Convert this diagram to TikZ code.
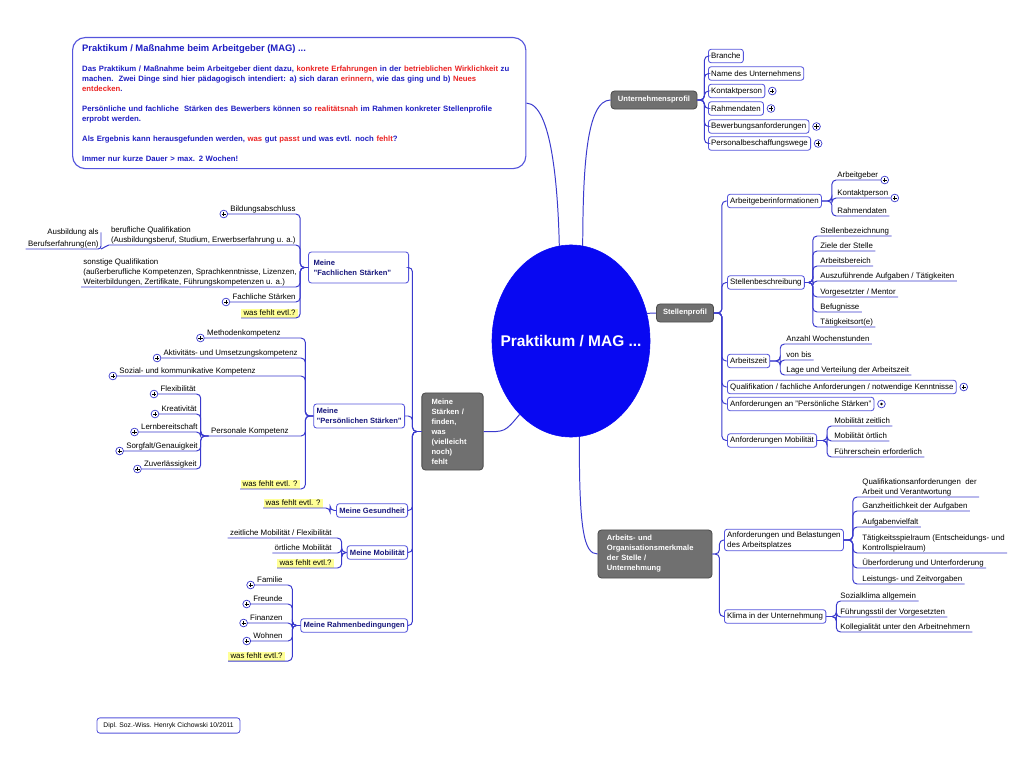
\documentclass[tikz,border=0pt]{standalone}
\usepackage{fontspec}
\setmainfont{Liberation Sans}
\usetikzlibrary{shapes.geometric, positioning}

\definecolor{mmline}{RGB}{58,58,205}
\definecolor{mmframe}{RGB}{85,85,220}
\definecolor{mmhub}{RGB}{8,8,242}
\definecolor{mmgray}{RGB}{112,112,112}
\definecolor{mmtitle}{RGB}{30,30,195}
\definecolor{mmred}{RGB}{235,35,35}
\definecolor{mmdark}{RGB}{25,25,125}
\definecolor{mmyellow}{RGB}{255,255,150}

\newcommand{\leaffont}{\fontsize{5.6}{7.1}\selectfont}
\newcommand{\redword}[1]{\textcolor{mmred}{#1}}

\begin{document}
\begin{tikzpicture}[
      x=0.025cm, y=-0.025cm,
      font=\leaffont,
      conn/.style={draw=mmline, line width=0.7pt, rounded corners=3pt},
      hub/.style={ellipse, draw=mmhub, fill=mmhub, text=white, inner xsep=-12pt, inner ysep=0pt, minimum width=3.95cm, minimum height=4.8cm, font=\fontsize{11}{13}\selectfont\bfseries},
      infobox/.style={draw=mmframe, fill=white, line width=0.8pt, rounded corners=9pt, text=mmtitle, align=left, text width=10.85cm, inner xsep=0.24cm, minimum height=3.275cm, font=\fontsize{5.5}{7.1}\selectfont\bfseries},
      branch/.style={draw=black!70, fill=mmgray, text=white, line width=0.6pt, rounded corners=2.5pt, inner sep=2pt, font=\fontsize{5.4}{7.1}\selectfont\bfseries},
      topic/.style={draw=mmframe, fill=white, line width=0.6pt, rounded corners=2pt, inner xsep=2pt, inner ysep=1.5pt, minimum height=0.34cm, align=left},
      mytopic/.style={topic, text=mmdark, font=\fontsize{5.4}{7.1}\selectfont\bfseries},
      leaf/.style={inner xsep=1.5pt, inner ysep=0.3pt, align=left, execute at end node={\rule[-1.3pt]{0pt}{1pt}}},
      wish/.style={leaf, fill=mmyellow},
      expander/.style={circle, draw=mmline, fill=white, line width=0.5pt, inner sep=0pt, minimum size=5.5pt,
        path picture={\draw[black, line width=0.45pt] (path picture bounding box.center) +(-1.5pt,0) -- +(1.5pt,0) (path picture bounding box.center) +(0,-1.5pt) -- +(0,1.5pt);}},
      expanderdot/.style={expander, path picture={\fill[black] (path picture bounding box.center) circle (1pt);}},
  ]
  \useasboundingbox (0,0) rectangle (1024,768);

  % central topic
  \node[hub] (mag) at (571,341) {Praktikum / MAG ...};

  % intro text
  \node[infobox, anchor=north west] (info) at (72,37) {%
      {\fontsize{6.7}{8}\selectfont Praktikum / Maßnahme beim Arbeitgeber (MAG) ...}\\[7pt]
      Das Praktikum / Maßnahme beim Arbeitgeber dient dazu, \redword{konkrete Erfahrungen} in der \redword{betrieblichen Wirklichkeit} zu\\
      machen.\ \ Zwei Dinge sind hier pädagogisch intendiert: a) sich daran \redword{erinnern}, wie das ging und b) \redword{Neues}\\
      \redword{entdecken}.\\[7pt]
      Persönliche und fachliche\ \ Stärken des Bewerbers können so \redword{realitätsnah} im Rahmen konkreter Stellenprofile\\
      erprobt werden.\\[7pt]
      Als Ergebnis kann herausgefunden werden, \redword{was} gut \redword{passt} und was evtl. noch \redword{fehlt}?\\[7pt]
      Immer nur kurze Dauer > max. 2 Wochen!};
  \draw[conn] (info.east) .. controls (552,104) and (558,190) .. (mag.97);

  % --- Unternehmensprofil ---
  \node[branch, minimum width=2.15cm, minimum height=0.45cm] (unt) at (654,100) {Unternehmensprofil};
  \draw[conn] (mag.83) .. controls (583,170) and (586,100) .. (unt.west);
  \node[topic, anchor=west] (unt1) at (708,56) {Branche};
  \node[topic, anchor=west] (unt2) at (708,73.5) {Name des Unternehmens};
  \node[topic, anchor=west] (unt3) at (708,91) {Kontaktperson};
  \node[topic, anchor=west] (unt4) at (708,108.5) {Rahmendaten};
  \node[topic, anchor=west] (unt5) at (708,126.5) {Bewerbungsanforderungen};
  \node[topic, anchor=west] (unt6) at (708,143.5) {Personalbeschaffungswege};
  \node[expander, right=2pt of unt3] (unt3x) {};
  \node[expander, right=2pt of unt4] (unt4x) {};
  \node[expander, right=2pt of unt5] (unt5x) {};
  \node[expander, right=2pt of unt6] (unt6x) {};
  \draw[conn] (unt.east) -- ++(7,0) |- (unt1.west);
  \draw[conn] (unt.east) -- ++(7,0) |- (unt2.west);
  \draw[conn] (unt.east) -- ++(7,0) |- (unt3.west);
  \draw[conn] (unt.east) -- ++(7,0) |- (unt4.west);
  \draw[conn] (unt.east) -- ++(7,0) |- (unt5.west);
  \draw[conn] (unt.east) -- ++(7,0) |- (unt6.west);

  % --- Stellenprofil ---
  \node[branch, minimum width=1.425cm, minimum height=0.45cm] (stp) at (685,313) {Stellenprofil};
  \draw[conn] (mag.20) -- (stp.west);
  \node[topic, anchor=west] (sp1) at (727,201) {Arbeitgeberinformationen};
  \node[topic, anchor=west] (sp2) at (727,282.5) {Stellenbeschreibung};
  \node[topic, anchor=west] (sp3) at (727,361) {Arbeitszeit};
  \node[topic, anchor=west] (sp4) at (727,387) {Qualifikation / fachliche Anforderungen / notwendige Kenntnisse};
  \node[topic, anchor=west] (sp5) at (727,404) {Anforderungen an "Persönliche Stärken"};
  \node[topic, anchor=west] (sp6) at (727,440.5) {Anforderungen Mobilität};
  \node[expander, right=2pt of sp4] (sp4x) {};
  \node[expanderdot, right=2pt of sp5] (sp5x) {};
  \draw[conn] (stp.east) -- ++(8,0) |- (sp1.west);
  \draw[conn] (stp.east) -- ++(8,0) |- (sp2.west);
  \draw[conn] (stp.east) -- ++(8,0) |- (sp3.west);
  \draw[conn] (stp.east) -- ++(8,0) |- (sp4.west);
  \draw[conn] (stp.east) -- ++(8,0) |- (sp5.west);
  \draw[conn] (stp.east) -- ++(8,0) |- (sp6.west);

  % Arbeitgeberinformationen
  \node[leaf, anchor=south west] (a1) at (835,180) {Arbeitgeber};
  \node[leaf, anchor=south west] (a2) at (835,198) {Kontaktperson};
  \node[leaf, anchor=south west] (a3) at (835,216) {Rahmendaten};
  \node[expander, anchor=west] (a1x) at (a1.south east) {};
  \node[expander, anchor=west] (a2x) at (a2.south east) {};
  \draw[conn] (sp1.east) -- ++(10,0) |- (a1.south east);
  \draw[conn] (sp1.east) -- ++(10,0) |- (a2.south east);
  \draw[conn] (sp1.east) -- ++(10,0) |- (a3.south east);

  % Stellenbeschreibung
  \node[leaf, anchor=south west] (b1) at (818,236) {Stellenbezeichnung};
  \node[leaf, anchor=south west] (b2) at (818,251) {Ziele der Stelle};
  \node[leaf, anchor=south west] (b3) at (818,266) {Arbeitsbereich};
  \node[leaf, anchor=south west] (b4) at (818,281) {Auszuführende Aufgaben / Tätigkeiten};
  \node[leaf, anchor=south west] (b5) at (818,297) {Vorgesetzter / Mentor};
  \node[leaf, anchor=south west] (b6) at (818,312) {Befugnisse};
  \node[leaf, anchor=south west] (b7) at (818,327) {Tätigkeitsort(e)};
  \draw[conn] (sp2.east) -- ++(8,0) |- (b1.south east);
  \draw[conn] (sp2.east) -- ++(8,0) |- (b2.south east);
  \draw[conn] (sp2.east) -- ++(8,0) |- (b3.south east);
  \draw[conn] (sp2.east) -- ++(8,0) |- (b4.south east);
  \draw[conn] (sp2.east) -- ++(8,0) |- (b5.south east);
  \draw[conn] (sp2.east) -- ++(8,0) |- (b6.south east);
  \draw[conn] (sp2.east) -- ++(8,0) |- (b7.south east);

  % Arbeitszeit
  \node[leaf, anchor=south west] (c1) at (784,344) {Anzahl Wochenstunden};
  \node[leaf, anchor=south west] (c2) at (784,360) {von bis};
  \node[leaf, anchor=south west] (c3) at (784,375) {Lage und Verteilung der Arbeitszeit};
  \draw[conn] (sp3.east) -- ++(10,0) |- (c1.south east);
  \draw[conn] (sp3.east) -- ++(10,0) |- (c2.south east);
  \draw[conn] (sp3.east) -- ++(10,0) |- (c3.south east);

  % Anforderungen Mobilitaet
  \node[leaf, anchor=south west] (d1) at (832,426) {Mobilität zeitlich};
  \node[leaf, anchor=south west] (d2) at (832,441) {Mobilität örtlich};
  \node[leaf, anchor=south west] (d3) at (832,457) {Führerschein erforderlich};
  \draw[conn] (sp6.east) -- ++(10,0) |- (d1.south east);
  \draw[conn] (sp6.east) -- ++(10,0) |- (d2.south east);
  \draw[conn] (sp6.east) -- ++(10,0) |- (d3.south east);

  % --- Arbeits- und Organisationsmerkmale ---
  \node[branch, align=left, text width=2.4cm, inner xsep=0.225cm, minimum height=1.2cm] (arb) at (655,554) {Arbeits- und\\Organisationsmerkmale\\der Stelle /\\Unternehmung};
  \draw[conn] (mag.275) .. controls (579,530) and (584,554) .. (arb.west);
  \node[topic, anchor=west] (e1) at (724,540) {Anforderungen und Belastungen\\des Arbeitsplatzes};
  \node[topic, anchor=west] (e2) at (724,616.5) {Klima in der Unternehmung};
  \draw[conn] (arb.east) -- ++(7,0) |- (e1.west);
  \draw[conn] (arb.east) -- ++(7,0) |- (e2.west);

  \node[leaf, anchor=south west] (f1) at (860,497) {Qualifikationsanforderungen\ \ der\\Arbeit und Verantwortung};
  \node[leaf, anchor=south west] (f2) at (860,511) {Ganzheitlichkeit der Aufgaben};
  \node[leaf, anchor=south west] (f3) at (860,527) {Aufgabenvielfalt};
  \node[leaf, anchor=south west] (f4) at (860,553) {Tätigkeitsspielraum (Entscheidungs- und\\Kontrollspielraum)};
  \node[leaf, anchor=south west] (f5) at (860,568) {Überforderung und Unterforderung};
  \node[leaf, anchor=south west] (f6) at (860,584) {Leistungs- und Zeitvorgaben};
  \draw[conn] (e1.east) -- ++(9,0) |- (f1.south east);
  \draw[conn] (e1.east) -- ++(9,0) |- (f2.south east);
  \draw[conn] (e1.east) -- ++(9,0) |- (f3.south east);
  \draw[conn] (e1.east) -- ++(9,0) |- (f4.south east);
  \draw[conn] (e1.east) -- ++(9,0) |- (f5.south east);
  \draw[conn] (e1.east) -- ++(9,0) |- (f6.south east);

  \node[leaf, anchor=south west] (g1) at (838,601) {Sozialklima allgemein};
  \node[leaf, anchor=south west] (g2) at (838,617) {Führungsstil der Vorgesetzten};
  \node[leaf, anchor=south west] (g3) at (838,632) {Kollegialität unter den Arbeitnehmern};
  \draw[conn] (e2.east) -- ++(10,0) |- (g1.south east);
  \draw[conn] (e2.east) -- ++(10,0) |- (g2.south east);
  \draw[conn] (e2.east) -- ++(10,0) |- (g3.south east);

  % --- Meine Staerken (left half) ---
  \node[branch, align=left, text width=1.05cm, inner xsep=0.24cm, minimum height=1.925cm] (ms) at (452.5,431.5) {Meine\\Stärken /\\finden,\\was\\(vielleicht\\noch)\\fehlt};
  \draw[conn] (ms.east) .. controls (505,432) .. (mag.235);

  \node[mytopic, anchor=east, text width=2.25cm, minimum width=2.5cm, minimum height=0.775cm] (h1) at (409,267.5) {Meine\\"Fachlichen Stärken"};
  \node[mytopic, anchor=east, minimum height=0.6cm] (h2) at (405,416) {Meine\\"Persönlichen Stärken"};
  \node[mytopic, anchor=east] (h3) at (408,510.5) {Meine Gesundheit};
  \node[mytopic, anchor=east] (h4) at (408,552.5) {Meine Mobilität};
  \node[mytopic, anchor=east] (h5) at (408,625.5) {Meine Rahmenbedingungen};
  \draw[conn] (ms.west) -- ++(-9,0) |- (h1.east);
  \draw[conn] (ms.west) -- ++(-9,0) |- (h2.east);
  \draw[conn] (ms.west) -- ++(-9,0) |- (h3.east);
  \draw[conn] (ms.west) -- ++(-9,0) |- (h4.east);
  \draw[conn] (ms.west) -- ++(-9,0) |- (h5.east);

  % Fachliche Staerken
  \node[leaf, anchor=south east] (i1) at (298,214) {Bildungsabschluss};
  \node[leaf, anchor=south east] (i2) at (298,245) {berufliche Qualifikation\\(Ausbildungsberuf, Studium, Erwerbserfahrung u. a.)};
  \node[leaf, anchor=south east, align=right, font=\fontsize{5.6}{8.4}\selectfont] (i2a) at (101,249) {Ausbildung als\\Berufserfahrung(en)};
  \node[leaf, anchor=south east] (i3) at (299,287) {sonstige Qualifikation\\(außerberufliche Kompetenzen, Sprachkenntnisse, Lizenzen,\\Weiterbildungen, Zertifikate, Führungskompetenzen u. a.)};
  \node[leaf, anchor=south east] (i4) at (298,302) {Fachliche Stärken};
  \node[wish, anchor=south east] (i5) at (298,318) {was fehlt evtl.?};
  \node[expander, anchor=east] (i1x) at (i1.south west) {};
  \node[expander, anchor=east] (i4x) at (i4.south west) {};
  \draw[conn] (h1.west) -- ++(-8,0) |- (i1.south west);
  \draw[conn] (h1.west) -- ++(-8,0) |- (i2.south west);
  \draw[conn] (h1.west) -- ++(-8,0) |- (i3.south west);
  \draw[conn] (h1.west) -- ++(-8,0) |- (i4.south west);
  \draw[conn] (h1.west) -- ++(-8,0) |- (i5.south west);
  \draw[conn] (i2.south west) -- (i2a.south east);
  \draw[conn, rounded corners=2pt] ([yshift=-3pt]i2a.north east) |- (i2a.south west);

  % Persoenliche Staerken
  \node[leaf, anchor=south east] (j1) at (283,338) {Methodenkompetenz};
  \node[leaf, anchor=south east] (j2) at (300,358) {Aktivitäts- und Umsetzungskompetenz};
  \node[leaf, anchor=south east] (j3) at (258,376) {Sozial- und kommunikative Kompetenz};
  \node[leaf, anchor=south east] (j4) at (291,436) {Personale Kompetenz};
  \node[wish, anchor=south east] (j5) at (300,489) {was fehlt evtl. ?};
  \node[expander, anchor=east] (j1x) at (j1.south west) {};
  \node[expander, anchor=east] (j2x) at (j2.south west) {};
  \node[expander, anchor=east] (j3x) at (j3.south west) {};
  \draw[conn] (h2.west) -- ++(-8,0) |- (j1.south west);
  \draw[conn] (h2.west) -- ++(-8,0) |- (j2.south west);
  \draw[conn] (h2.west) -- ++(-8,0) |- (j3.south west);
  \draw[conn] (h2.west) -- ++(-8,0) |- (j4.south west);
  \draw[conn] (h2.west) -- ++(-8,0) |- (j5.south west);

  \node[leaf, anchor=south east] (k1) at (198,394) {Flexibilität};
  \node[leaf, anchor=south east] (k2) at (199,414) {Kreativität};
  \node[leaf, anchor=south east] (k3) at (200,432) {Lernbereitschaft};
  \node[leaf, anchor=south east] (k4) at (200,451) {Sorgfalt/Genauigkeit};
  \node[leaf, anchor=south east] (k5) at (199,469) {Zuverlässigkeit};
  \node[expander, anchor=east] (k1x) at (k1.south west) {};
  \node[expander, anchor=east] (k2x) at (k2.south west) {};
  \node[expander, anchor=east] (k3x) at (k3.south west) {};
  \node[expander, anchor=east] (k4x) at (k4.south west) {};
  \node[expander, anchor=east] (k5x) at (k5.south west) {};
  \draw[conn] (j4.south west) -- ++(-8,0) |- (k1.south west);
  \draw[conn] (j4.south west) -- ++(-8,0) |- (k2.south west);
  \draw[conn] (j4.south west) -- ++(-8,0) |- (k3.south west);
  \draw[conn] (j4.south west) -- ++(-8,0) |- (k4.south west);
  \draw[conn] (j4.south west) -- ++(-8,0) |- (k5.south west);

  % Gesundheit, Mobilitaet
  \node[wish, anchor=south east] (l1) at (323,508) {was fehlt evtl. ?};
  \draw[conn] (h3.west) -- ++(-6,0) |- (l1.south west);

  \node[leaf, anchor=south east] (m1) at (334,538) {zeitliche Mobilität / Flexibilität};
  \node[leaf, anchor=south east] (m2) at (334,553) {örtliche Mobilität};
  \node[wish, anchor=south east] (m3) at (334,568) {was fehlt evtl.?};
  \draw[conn] (h4.west) -- ++(-5,0) |- (m1.south west);
  \draw[conn] (h4.west) -- ++(-5,0) |- (m2.south west);
  \draw[conn] (h4.west) -- ++(-5,0) |- (m3.south west);

  % Rahmenbedingungen
  \node[leaf, anchor=south east] (n1) at (285,585) {Familie};
  \node[leaf, anchor=south east] (n2) at (285,604) {Freunde};
  \node[leaf, anchor=south east] (n3) at (285,623) {Finanzen};
  \node[leaf, anchor=south east] (n4) at (285,641) {Wohnen};
  \node[wish, anchor=south east] (n5) at (285,661) {was fehlt evtl.?};
  \node[expander, anchor=east] (n1x) at (n1.south west) {};
  \node[expander, anchor=east] (n2x) at (n2.south west) {};
  \node[expander, anchor=east] (n3x) at (n3.south west) {};
  \node[expander, anchor=east] (n4x) at (n4.south west) {};
  \draw[conn] (h5.west) -- ++(-8,0) |- (n1.south west);
  \draw[conn] (h5.west) -- ++(-8,0) |- (n2.south west);
  \draw[conn] (h5.west) -- ++(-8,0) |- (n3.south west);
  \draw[conn] (h5.west) -- ++(-8,0) |- (n4.south west);
  \draw[conn] (h5.west) -- ++(-8,0) |- (n5.south west);

  % footer
  \node[topic, minimum width=3.575cm, minimum height=0.38cm, font=\fontsize{4.8}{6}\selectfont] (sig) at (168.5,725.5) {Dipl. Soz.-Wiss. Henryk Cichowski 10/2011};

\end{tikzpicture}
\end{document}
